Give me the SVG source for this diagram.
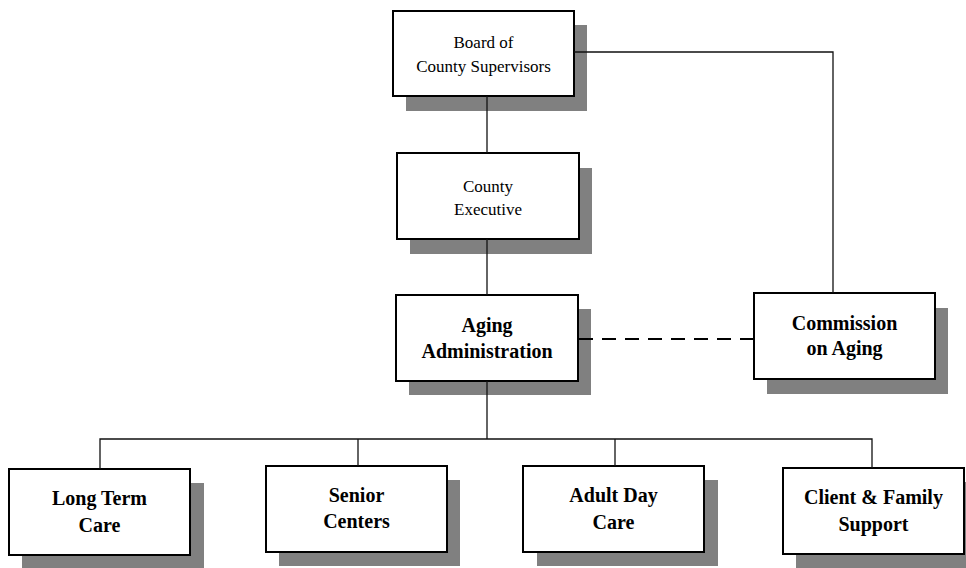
<svg xmlns="http://www.w3.org/2000/svg" width="966" height="568" viewBox="0 0 966 568">
<style>
.sh{fill:#808080;stroke:none}
.bx{fill:#fff;stroke:#000;stroke-width:2}
.r{font-family:"Liberation Serif","Times New Roman",serif;font-size:17px;fill:#000;text-anchor:middle}
.b{font-family:"Liberation Serif","Times New Roman",serif;font-size:20px;font-weight:bold;fill:#000;text-anchor:middle}
.ln{fill:none;stroke:#111;stroke-width:1.3}
.dl{fill:none;stroke:#000;stroke-width:2;stroke-dasharray:14 9}
</style>
<rect width="966" height="568" fill="#fff"/>
<g id="board">
<rect class="sh" x="406" y="25" width="181" height="86"/>
<rect class="bx" x="393" y="11" width="181" height="85"/>
<text class="r" x="483.5" y="48">Board of</text>
<text class="r" x="483.5" y="71.5">County Supervisors</text>
</g>
<g id="county-executive">
<rect class="sh" x="410" y="168" width="182" height="86"/>
<rect class="bx" x="397" y="153" width="182" height="86"/>
<text class="r" x="488" y="191.5">County</text>
<text class="r" x="488" y="214.5">Executive</text>
</g>
<g id="aging-administration">
<rect class="sh" x="409" y="309" width="182" height="86"/>
<rect class="bx" x="396" y="295" width="182" height="86"/>
<text class="b" x="487" y="331.5">Aging</text>
<text class="b" x="487" y="357.5">Administration</text>
</g>
<g id="commission">
<rect class="sh" x="767" y="308" width="181" height="86"/>
<rect class="bx" x="754" y="293" width="181" height="86"/>
<text class="b" x="844.5" y="330">Commission</text>
<text class="b" x="844.5" y="355">on Aging</text>
</g>
<g id="long-term-care">
<rect class="sh" x="22" y="483" width="182" height="86"/>
<rect class="bx" x="9" y="469" width="181" height="86"/>
<text class="b" x="99.5" y="505">Long Term</text>
<text class="b" x="99.5" y="531.5">Care</text>
</g>
<g id="senior-centers">
<rect class="sh" x="279" y="480" width="181" height="86"/>
<rect class="bx" x="266" y="466" width="181" height="86"/>
<text class="b" x="356.5" y="501.7">Senior</text>
<text class="b" x="356.5" y="528.3">Centers</text>
</g>
<g id="adult-day-care">
<rect class="sh" x="537" y="480" width="181" height="86"/>
<rect class="bx" x="523" y="466" width="181" height="86"/>
<text class="b" x="613.5" y="501.7">Adult Day</text>
<text class="b" x="613.5" y="529">Care</text>
</g>
<g id="client-family-support">
<rect class="sh" x="796" y="482" width="181" height="86"/>
<rect class="bx" x="783" y="468" width="181" height="86"/>
<text class="b" x="873.5" y="504">Client &amp; Family</text>
<text class="b" x="873.5" y="530.7">Support</text>
</g>
<g id="connectors">
<path class="ln" d="M487 96V153"/>
<path class="ln" d="M487 239V295"/>
<path class="ln" d="M574 52H833V293"/>
<path class="ln" d="M487 381V439"/>
<path class="ln" d="M100 469V439H872V468"/>
<path class="ln" d="M358 439V466"/>
<path class="ln" d="M615 439V466"/>
<path class="dl" d="M579 339H754"/>
</g>
</svg>
